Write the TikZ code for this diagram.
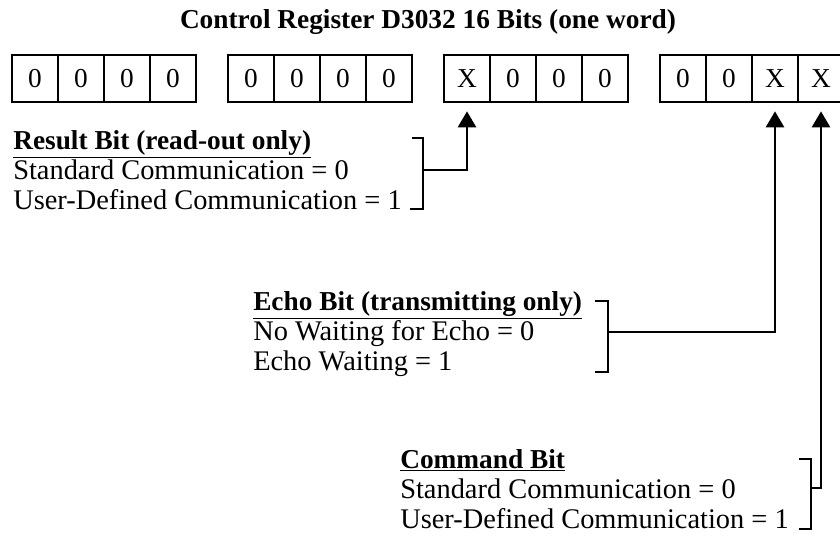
\documentclass[tikz,border=0pt]{standalone}
\usepackage{fontspec}
\setmainfont{Liberation Serif}
\usetikzlibrary{arrows.meta}

\newcommand\bitname[1]{\underline{\fontsize{20.5}{22.5}\selectfont\bfseries #1}}

\begin{document}
\begin{tikzpicture}[x=0.75pt, y=-0.75pt,
  cell/.style={draw, line width=2pt, minimum width=34.5pt, minimum height=35.25pt, inner sep=0pt, font=\fontsize{20.5}{22.5}\selectfont},
  info/.style={align=left, inner sep=0pt, anchor=base west, font=\fontsize{21.3}{22.5}\selectfont},
  heading/.style={inner sep=0pt, anchor=base, font=\fontsize{20.5}{22.5}\selectfont\bfseries},
  brk/.style={line width=2pt},
  pointer/.style={-{Triangle[width=13.5pt,length=12pt]}, line width=2pt, shorten >=6pt}
]
\useasboundingbox (0,0) rectangle (840,539);

\node[heading] (title) at (428,28) {Control Register D3032 16 Bits (one word)};

% the 16 bits, four groups of four
\foreach \v [count=\i] in {0,0,0,0,0,0,0,0,X,0,0,0,0,0,X,X}{
  \pgfmathtruncatemacro\grp{(\i-1)/4}
  \pgfmathsetmacro\cx{35+\grp*216+mod(\i-1,4)*46}
  \node[cell] (c\i) at (\cx,78.5) {\v};
}

% base anchor sits on the last line
\node[info] (result) at (13,209) {\bitname{Result Bit (read-out only)}\\Standard Communication = 0\\User-Defined Communication = 1};
\node[info] (echo) at (253,370) {\bitname{Echo Bit (transmitting only)}\\No Waiting for Echo = 0\\Echo Waiting = 1};
\node[info] (command) at (400,528) {\bitname{Command Bit}\\Standard Communication = 0\\User-Defined Communication = 1};

% brackets
\coordinate (resbr) at (423,170);
\coordinate (echobr) at (608,332);
\coordinate (cmdbr) at (811,488);
\draw[brk] (412,138) -| (423,209) -- (410,209);
\draw[brk] (595,301) -| (608,372) -- (595,372);
\draw[brk] (799,459) -| (811,529) -- (799,529);

\draw[pointer] (resbr) -| (c9.south);
\draw[pointer] (echobr) -| (c15.south);
\draw[pointer] (cmdbr) -| (c16.south);
\end{tikzpicture}
\end{document}
